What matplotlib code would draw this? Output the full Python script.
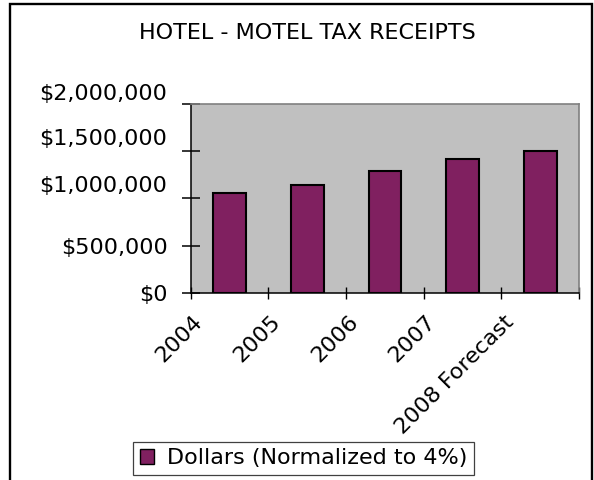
import matplotlib
matplotlib.use('Agg')
import matplotlib.pyplot as plt
import matplotlib.ticker as mticker
import matplotlib.transforms as mtransforms
from matplotlib.patches import Rectangle

# Hotel-motel tax receipts by year
years = ['2004', '2005', '2006', '2007', '2008 Forecast']
receipts = [1060000, 1145000, 1290000, 1415000, 1500000]
y_ticks = [0, 500000, 1000000, 1500000, 2000000]

title = 'HOTEL - MOTEL TAX RECEIPTS'
series_name = 'Dollars (Normalized to 4%)'

bar_color = '#802060'
plot_bg = '#C0C0C0'
FS = 16

plt.rcParams['font.family'] = ['DejaVu Sans']

fig = plt.figure(figsize=(5.94, 4.8), dpi=100)
ax = fig.add_axes([0.321, 0.390, 0.654, 0.394])
ax.set_facecolor(plot_bg)

x = list(range(len(years)))
bars = ax.bar(x, receipts, width=0.42, color=bar_color, edgecolor='black',
              linewidth=1.5, label=series_name, zorder=3)

ax.set_xlim(-0.5, len(years) - 0.5)
ax.set_ylim(y_ticks[0], y_ticks[-1])

# y axis: currency labels, ticks crossing the axis line
ax.set_yticks(y_ticks)
ax.yaxis.set_major_formatter(mticker.FuncFormatter(lambda v, p: f'${v:,.0f}'))
ax.tick_params(axis='y', direction='inout', length=13.5, width=1.1,
               pad=10, labelsize=FS, color='black')

# x axis: tick marks sit between categories, labels hang off the left mark
boundaries = [i - 0.5 for i in range(len(years) + 1)]
ax.set_xticks(boundaries)
ax.set_xticklabels(years + [''], rotation=45, ha='right', va='top')
ax.tick_params(axis='x', direction='inout', length=8, width=1.0,
               pad=8, labelsize=FS, color='black')

fig.canvas.draw()
shift_x = mtransforms.ScaledTranslation(16 / 100, -2 / 100, fig.dpi_scale_trans)
for lab in ax.get_xticklabels():
    lab.set_transform(lab.get_transform() + shift_x)

# upper y labels ride a little above their tick marks
label_lift_px = [0, 0, 14, 14, 12]
for lab, lift in zip(ax.get_yticklabels(), label_lift_px):
    lab.set_transform(lab.get_transform() +
                      mtransforms.ScaledTranslation(0, lift / 100, fig.dpi_scale_trans))

for side in ['top', 'right']:
    ax.spines[side].set_color('#808080')
    ax.spines[side].set_linewidth(1.2)
for side in ['left', 'bottom']:
    ax.spines[side].set_color('black')
    ax.spines[side].set_linewidth(1.1)

fig.text(0.517, 1 - 33 / 480, title, ha='center', va='center', fontsize=FS)

leg = fig.legend(handles=[bars], labels=[series_name], loc='center',
                 bbox_to_anchor=(0.511, 0.045), fontsize=FS, frameon=True,
                 fancybox=False, framealpha=1, edgecolor='#404040',
                 handlelength=0.65, handleheight=0.65, handletextpad=0.55,
                 borderpad=0.3, borderaxespad=0)
leg.get_frame().set_linewidth(0.9)
leg.legend_handles[0].set_linewidth(1.0)

# chart border
fig.patches.append(Rectangle((9.5 / 594, -0.02), (592 - 9.5) / 594, (480 - 3.5) / 480 + 0.02,
                             transform=fig.transFigure, fill=False,
                             edgecolor='black', linewidth=1.7))

fig.savefig('out.png', dpi=100, facecolor='white')
